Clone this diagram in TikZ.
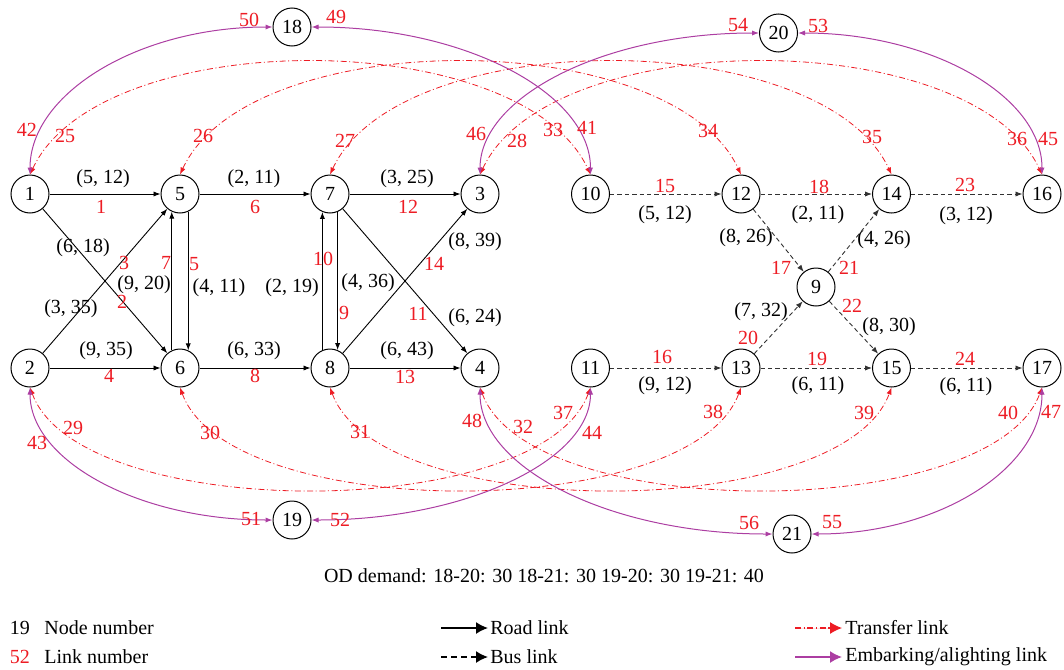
\documentclass[tikz,border=0pt]{standalone}
\usepackage{fontspec}
\setmainfont{Liberation Serif}
\usetikzlibrary{arrows.meta}
\definecolor{tred}{RGB}{237,28,36}
\definecolor{embc}{RGB}{172,62,162}
\definecolor{busc}{RGB}{50,50,50}
\tikzset{
  smalltip/.tip={Latex[length=3.5pt,width=2.6pt]},
  bigtip/.tip={Latex[length=6pt,width=6pt]},
}
\begin{document}
\begin{tikzpicture}[x=0.5pt,y=-0.5pt,
  every node/.style={font=\fontsize{10}{12}\selectfont},
  nd/.style={circle,draw,line width=0.5pt,minimum size=19pt,inner sep=0pt},
  lab/.style={inner sep=0pt},
  rl/.style={text=tred,inner sep=0pt},
  road/.style={line width=0.45pt,-smalltip},
  bus/.style={draw=busc,line width=0.45pt,dash pattern=on 2.2pt off 1.5pt,-smalltip},
  tra/.style={draw=tred,line width=0.4pt,dash pattern=on 3pt off 1.3pt on 0.5pt off 1.3pt,smalltip-smalltip},
  emb/.style={draw=embc,line width=0.5pt,smalltip-smalltip},
]
\useasboundingbox (0,0) rectangle (1064,669);

% road nodes
\node[nd] (n1) at (30,194) {1};
\node[nd] (n5) at (180,194) {5};
\node[nd] (n7) at (330,194) {7};
\node[nd] (n3) at (480,194) {3};
\node[nd] (n2) at (30,368) {2};
\node[nd] (n6) at (180,368) {6};
\node[nd] (n8) at (330,368) {8};
\node[nd] (n4) at (480,368) {4};
% bus nodes
\node[nd] (n10) at (590.5,194) {10};
\node[nd] (n12) at (741,194) {12};
\node[nd] (n14) at (891.5,194) {14};
\node[nd] (n16) at (1042,194) {16};
\node[nd] (n11) at (590.5,368) {11};
\node[nd] (n13) at (741,368) {13};
\node[nd] (n15) at (891.5,368) {15};
\node[nd] (n17) at (1042,368) {17};
\node[nd] (n9) at (816,287) {9};
% OD nodes
\node[nd] (n18) at (292,27) {18};
\node[nd] (n20) at (778.5,33) {20};
\node[nd] (n19) at (292,520) {19};
\node[nd] (n21) at (792,534) {21};

% road links
\draw[road] (n1) -- (n5);
\draw[road] (n5) -- (n7);
\draw[road] (n7) -- (n3);
\draw[road] (n2) -- (n6);
\draw[road] (n6) -- (n8);
\draw[road] (n8) -- (n4);
\draw[road] (n1) -- (n6);
\draw[road] (n2) -- (n5);
\draw[road] (n7) -- (n4);
\draw[road] (n8) -- (n3);
\draw[road] (n5.-65) -- (n6.65);
\draw[road] (n6.115) -- (n5.-115);
\draw[road] (n7.-67) -- (n8.67);
\draw[road] (n8.113) -- (n7.-113);

% bus links
\draw[bus] (n10) -- (n12);
\draw[bus] (n12) -- (n14);
\draw[bus] (n14) -- (n16);
\draw[bus] (n11) -- (n13);
\draw[bus] (n13) -- (n15);
\draw[bus] (n15) -- (n17);
\draw[bus] (n12) -- (n9);
\draw[bus] (n13) -- (n9);
\draw[bus] (n9) -- (n14);
\draw[bus] (n9) -- (n15);

% transfer links
\draw[tra] (n1.north) .. controls +(70,-150) and +(-70,-150) .. (n10.north);
\draw[tra] (n5.north) .. controls +(70,-150) and +(-70,-150) .. (n12.north);
\draw[tra] (n7.north) .. controls +(70,-150) and +(-70,-150) .. (n14.north);
\draw[tra] (n3.north) .. controls +(70,-150) and +(-70,-150) .. (n16.north);
\draw[tra] (n2.south) .. controls +(50,136) and +(-50,136) .. (n11.south);
\draw[tra] (n6.south) .. controls +(50,136) and +(-50,136) .. (n13.south);
\draw[tra] (n8.south) .. controls +(50,136) and +(-50,136) .. (n15.south);
\draw[tra] (n4.south) .. controls +(50,136) and +(-50,136) .. (n17.south);

% embarking / alighting links
\draw[emb] (n18.west) .. controls +(-134,0) and +(0,-81) .. (n1.north);
\draw[emb] (n18.east) .. controls +(154,0) and +(0,-81) .. (n10.north);
\draw[emb] (n20.west) .. controls +(-154,0) and +(0,-78) .. (n3.north);
\draw[emb] (n20.east) .. controls +(134,0) and +(0,-78) .. (n16.north);
\draw[emb] (n19.west) .. controls +(-134,0) and +(0,73) .. (n2.south);
\draw[emb] (n19.east) .. controls +(154,0) and +(0,73) .. (n11.south);
\draw[emb] (n21.west) .. controls +(-161,0) and +(0,81) .. (n4.south);
\draw[emb] (n21.east) .. controls +(127,0) and +(0,81) .. (n17.south);

% road link labels
\node[lab] (c1) at (103,179) {(5, 12)};  \node[rl] (r1) at (101,207) {1};
\node[lab] (c6) at (254,179) {(2, 11)};  \node[rl] (r6) at (255,207) {6};
\node[lab] (c12) at (407,179) {(3, 25)}; \node[rl] (r12) at (408,207) {12};
\node[lab] (c4) at (106,351) {(9, 35)};  \node[rl] (r4) at (109,376) {4};
\node[lab] (c8) at (254,351) {(6, 33)};  \node[rl] (r8) at (255,376) {8};
\node[lab] (c13) at (407,351) {(6, 43)}; \node[rl] (r13) at (405,377) {13};
\node[lab] (c2) at (83,248) {(6, 18)};   \node[rl] (r2) at (122,302) {2};
\node[lab] (c3) at (71,309) {(3, 35)};   \node[rl] (r3) at (124,263) {3};
\node[lab] (c7) at (144,285) {(9, 20)};  \node[rl] (r7) at (166,263) {7};
\node[lab] (c5) at (219,288) {(4, 11)};  \node[rl] (r5) at (194,264) {5};
\node[lab] (c10) at (292,288) {(2, 19)}; \node[rl] (r10) at (323,259) {10};
\node[lab] (c9) at (368,283) {(4, 36)};  \node[rl] (r9) at (344,313) {9};
\node[lab] (c14) at (475,242) {(8, 39)}; \node[rl] (r14) at (434,264) {14};
\node[lab] (c11) at (475,318) {(6, 24)}; \node[rl] (r11) at (418,314) {11};

% bus link labels
\node[rl] (r15) at (665,186) {15};  \node[lab] (c15) at (665,215) {(5, 12)};
\node[rl] (r18) at (819,187) {18};  \node[lab] (c18) at (818,215) {(2, 11)};
\node[rl] (r23) at (965,185) {23};  \node[lab] (c23) at (966,216) {(3, 12)};
\node[rl] (r16) at (662,357) {16};  \node[lab] (c16) at (665,386) {(9, 12)};
\node[rl] (r19) at (817,359) {19};  \node[lab] (c19) at (818,386) {(6, 11)};
\node[rl] (r24) at (965,359) {24};  \node[lab] (c24) at (966,387) {(6, 11)};
\node[lab] (c17) at (746,238) {(8, 26)}; \node[rl] (r17) at (781,268) {17};
\node[lab] (c21) at (884,240) {(4, 26)}; \node[rl] (r21) at (849,268) {21};
\node[lab] (c20) at (761,312) {(7, 32)}; \node[rl] (r20) at (748,338) {20};
\node[lab] (c22) at (889,327) {(8, 30)}; \node[rl] (r22) at (852,306) {22};

% transfer link labels
\node[rl] (r25) at (65,136) {25};
\node[rl] (r26) at (203,136) {26};
\node[rl] (r27) at (345,141) {27};
\node[rl] (r28) at (517,141) {28};
\node[rl] (r33) at (553,130) {33};
\node[rl] (r34) at (708,131) {34};
\node[rl] (r35) at (872,137) {35};
\node[rl] (r36) at (1017,139) {36};
\node[rl] (r29) at (73,428) {29};
\node[rl] (r30) at (210,433) {30};
\node[rl] (r31) at (360,432) {31};
\node[rl] (r32) at (523,427) {32};
\node[rl] (r37) at (563,413) {37};
\node[rl] (r38) at (713,412) {38};
\node[rl] (r39) at (864,413) {39};
\node[rl] (r40) at (1008,413) {40};

% embarking labels
\node[rl] (r42) at (27,130) {42};
\node[rl] (r50) at (249,20) {50};
\node[rl] (r49) at (336,17) {49};
\node[rl] (r41) at (587,128) {41};
\node[rl] (r46) at (476,134) {46};
\node[rl] (r54) at (738,25) {54};
\node[rl] (r53) at (818,26) {53};
\node[rl] (r45) at (1048,139) {45};
\node[rl] (r43) at (37,443) {43};
\node[rl] (r51) at (251,519) {51};
\node[rl] (r52) at (340,520) {52};
\node[rl] (r44) at (592,433) {44};
\node[rl] (r48) at (472,421) {48};
\node[rl] (r56) at (749,523) {56};
\node[rl] (r55) at (832,522) {55};
\node[rl] (r47) at (1051,412) {47};

% OD demand
\node[lab] (od) at (544,576) {OD demand: 18-20: 30 18-21: 30 19-20: 30 19-21: 40};

% legend
\node[lab] (lg19) at (20,628) {19};
\node[lab,anchor=west] (lgn) at (44,628) {Node number};
\node[rl] (lg52) at (20,657) {52};
\node[lab,anchor=west] (lgl) at (44,657) {Link number};
\coordinate (ra) at (441,628); \coordinate (rb) at (488,628);
\draw[line width=0.8pt,-bigtip] (ra) -- (rb);
\node[lab,anchor=west] (lgr) at (490,628) {Road link};
\coordinate (ba) at (441,657); \coordinate (bb) at (488,657);
\draw[line width=0.8pt,dash pattern=on 3pt off 2pt,-bigtip] (ba) -- (bb);
\node[lab,anchor=west] (lgb) at (490,657) {Bus link};
\coordinate (ta) at (795,628); \coordinate (tb) at (842,628);
\draw[draw=tred,fill=tred,line width=0.6pt,dash pattern=on 3pt off 1.3pt on 0.6pt off 1.3pt,-bigtip] (ta) -- (tb);
\node[lab,anchor=west] (lgt) at (845,628) {Transfer link};
\coordinate (ea) at (795,657); \coordinate (eb) at (842,657);
\draw[draw=embc,fill=embc,line width=0.8pt,-bigtip] (ea) -- (eb);
\node[lab,anchor=west] (lge) at (845,657) {Embarking/alighting link};
\end{tikzpicture}
\end{document}
